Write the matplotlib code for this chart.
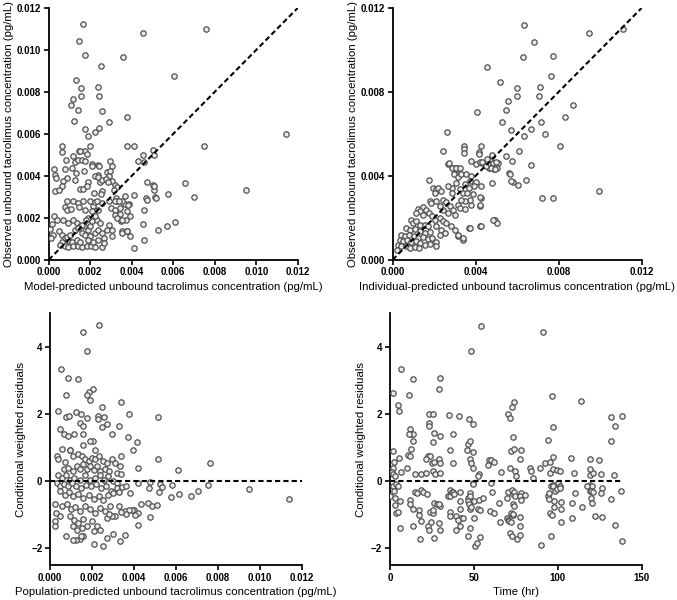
import numpy as np
import matplotlib
matplotlib.use("Agg")
import matplotlib.pyplot as plt

plt.rcParams['font.family'] = ['Liberation Sans', 'DejaVu Sans']

# concentrations read in units of 0.001 pg/mL
# panel A: model (population) predicted vs observed
pred_obs = [
    (1.64, 11.21), (1.45, 10.40), (4.53, 10.81), (7.58, 11.00), (1.77, 9.73), (3.60, 9.67),
    (2.52, 9.22), (6.02, 8.74), (1.32, 8.54), (1.53, 8.19), (2.36, 8.24), (1.53, 7.79),
    (2.44, 7.79), (1.19, 7.66), (1.08, 7.39), (1.43, 7.15), (2.57, 7.07), (3.78, 6.80),
    (1.24, 6.60), (2.92, 6.55), (1.77, 6.23), (2.44, 6.28), (2.25, 6.07), (1.88, 5.91),
    (11.41, 5.99), (0.64, 5.41), (2.01, 5.41), (3.78, 5.41), (4.10, 5.41), (5.01, 5.25),
    (7.47, 5.44), (5.06, 5.01), (0.63, 5.12), (1.77, 5.20), (1.48, 5.17), (4.53, 4.98),
    (4.29, 4.69), (4.58, 4.66), (6.54, 3.66), (4.74, 3.69), (5.04, 3.58), (5.06, 3.34),
    (9.48, 3.31), (5.73, 3.13), (6.99, 2.97), (4.69, 2.93), (5.14, 2.99), (4.11, 3.08),
    (3.68, 3.05), (4.61, 2.38), (6.06, 1.78), (5.69, 1.59), (5.25, 1.40), (4.56, 1.72),
    (4.61, 0.95), (4.13, 0.56), (3.89, 1.11), (3.78, 1.35), (3.53, 1.38), (3.73, 1.91),
    (3.89, 2.07), (3.50, 1.86), (3.66, 2.67), (3.86, 2.67), (3.24, 2.94), (3.29, 2.78),
    (1.83, 5.06), (1.16, 4.96), (1.51, 5.17), (0.82, 4.74), (0.76, 4.32), (0.27, 4.32),
    (0.31, 4.05), (0.34, 3.90), (0.31, 3.26), (1.27, 4.64), (1.40, 4.74), (1.59, 4.77),
    (1.75, 4.69), (2.07, 4.58), (2.38, 4.53), (2.10, 4.48), (2.43, 4.45), (2.96, 4.69),
    (3.04, 4.45), (1.11, 4.37), (1.72, 4.21), (1.33, 4.13), (0.88, 3.90), (0.71, 3.74),
    (0.63, 3.50), (0.47, 3.34), (1.27, 3.79), (1.51, 3.37), (1.67, 3.37), (1.88, 3.69),
    (1.86, 3.50), (2.47, 3.69), (2.39, 4.05), (2.23, 4.01), (2.36, 3.93), (2.56, 3.82),
    (2.80, 4.17), (2.96, 4.21), (2.92, 3.98), (3.04, 3.74), (3.20, 3.58), (3.28, 3.45),
    (3.12, 3.34), (2.76, 3.84), (2.84, 3.69), (2.56, 3.26), (2.52, 3.15), (3.52, 2.78),
    (2.18, 3.18), (0.90, 2.78), (1.19, 2.78), (1.43, 2.70), (1.67, 2.78), (1.99, 2.81),
    (2.12, 2.58), (2.23, 2.75), (2.34, 2.78), (2.56, 2.70), (2.88, 2.78), (3.20, 2.81),
    (3.36, 2.78), (0.27, 2.10), (0.76, 2.51), (0.87, 2.35), (1.08, 2.42), (1.46, 2.51),
    (1.75, 2.38), (2.07, 2.31), (2.39, 2.35), (3.00, 2.46), (3.20, 2.35), (3.44, 2.46),
    (3.44, 2.19), (3.17, 2.15), (3.28, 1.99), (3.52, 1.91), (3.84, 2.62), (3.76, 2.31),
    (0.14, 1.72), (0.39, 1.91), (0.71, 1.88), (0.92, 1.75), (1.19, 1.91), (1.35, 1.75),
    (1.51, 1.62), (0.06, 1.46), (0.22, 1.19), (0.11, 1.03), (0.47, 1.35), (0.63, 1.19),
    (0.79, 1.03), (0.95, 0.95), (1.11, 0.83), (0.66, 0.83), (0.55, 0.72), (0.76, 0.64),
    (0.95, 0.60), (1.19, 0.67), (1.40, 0.64), (1.59, 0.60), (1.83, 0.64), (2.04, 0.67),
    (2.23, 0.60), (2.56, 0.59), (1.88, 1.43), (1.99, 1.59), (1.72, 1.62), (2.07, 1.83),
    (2.31, 1.91), (2.47, 1.75), (2.23, 2.07), (1.91, 1.99), (1.59, 1.27), (1.75, 1.19),
    (1.99, 1.14), (2.23, 1.30), (2.39, 1.43), (2.56, 1.27), (2.80, 1.43), (2.88, 1.67),
    (3.04, 1.43), (3.04, 1.11), (2.64, 1.03), (2.39, 0.95), (2.15, 0.87), (1.88, 0.95),
    (1.35, 0.95), (1.51, 0.87), (2.64, 0.79), (3.52, 1.27), (3.76, 1.35), (0.87, 1.08),
    (1.03, 1.19), (1.27, 1.43), (1.43, 1.51), (1.59, 1.67), (1.78, 1.91), (5.09, 3.53),
    (5.16, 2.93), (4.72, 2.84),
]

# panel B: individual predicted vs observed
ipred_obs = [
    (6.33, 11.20), (9.48, 10.80), (11.08, 11.01), (6.83, 10.37), (6.30, 9.65), (7.71, 9.70),
    (4.56, 9.17), (5.17, 8.49), (7.63, 8.73), (5.98, 8.17), (7.10, 8.22), (5.98, 7.79),
    (7.07, 7.79), (5.57, 7.58), (8.67, 7.37), (5.45, 7.15), (4.05, 7.05), (8.32, 6.78),
    (5.25, 6.57), (5.70, 6.19), (6.67, 6.25), (7.13, 6.54), (7.34, 5.98), (6.33, 5.90),
    (2.60, 6.10), (8.06, 5.43), (3.44, 5.43), (3.44, 5.27), (3.44, 5.07), (4.26, 5.43),
    (6.10, 5.19), (2.44, 5.19), (4.18, 5.11), (4.77, 4.95), (5.45, 4.95), (5.74, 4.71),
    (5.09, 4.63), (4.85, 4.63), (4.53, 4.79), (4.29, 4.63), (4.66, 4.36), (4.90, 4.34),
    (5.04, 4.39), (6.65, 4.50), (5.62, 4.12), (5.78, 3.70), (6.02, 3.54), (6.41, 3.78),
    (4.80, 3.64), (9.96, 3.30), (7.21, 2.95), (7.71, 2.95), (4.26, 2.95), (4.21, 2.58),
    (3.76, 2.63), (4.93, 1.88), (5.01, 1.76), (4.21, 1.60), (4.27, 1.63), (3.69, 1.52),
    (3.16, 1.15), (3.37, 0.96), (1.75, 3.78), (2.67, 4.55), (2.92, 4.39), (3.12, 4.39),
    (3.00, 4.15), (3.79, 4.71), (4.03, 4.55), (4.23, 4.66), (4.16, 5.03), (4.32, 4.66),
    (4.51, 4.47), (4.80, 4.98), (4.84, 4.63), (4.99, 4.66), (4.76, 4.39), (4.92, 4.34),
    (2.71, 4.60), (2.88, 4.39), (3.07, 4.39), (3.26, 4.39), (2.94, 4.07), (3.15, 3.96),
    (3.31, 4.07), (3.55, 4.07), (3.79, 3.99), (3.71, 3.75), (4.00, 3.70), (4.27, 3.51),
    (3.90, 3.51), (4.22, 3.00), (4.22, 2.63), (3.68, 3.43), (3.47, 3.59), (3.07, 3.64),
    (2.88, 3.43), (2.67, 3.51), (2.88, 3.19), (3.23, 3.35), (3.39, 3.19), (3.58, 3.16),
    (3.87, 3.11), (3.71, 2.87), (3.47, 2.79), (3.31, 2.87), (3.15, 2.63), (3.23, 2.47),
    (3.47, 2.43), (1.94, 3.43), (2.10, 3.35), (2.02, 3.19), (2.18, 3.43), (2.35, 3.27),
    (1.78, 2.79), (1.86, 2.71), (2.10, 2.79), (2.42, 2.87), (2.59, 2.74), (2.75, 2.58),
    (2.26, 2.55), (2.43, 2.39), (2.67, 2.23), (2.91, 2.39), (2.99, 2.15), (1.22, 2.43),
    (1.46, 2.52), (1.62, 2.39), (1.30, 2.31), (1.14, 2.23), (1.46, 2.15), (1.75, 2.23),
    (1.91, 2.07), (2.02, 1.91), (2.27, 1.99), (2.43, 1.83), (2.59, 1.76), (2.10, 1.60),
    (2.35, 1.44), (2.51, 1.28), (2.27, 1.20), (2.07, 0.83), (2.07, 0.67), (2.83, 1.60),
    (2.99, 1.44), (3.15, 1.20), (3.39, 1.04), (0.90, 1.91), (0.98, 1.76), (1.14, 1.83),
    (1.30, 1.68), (1.54, 1.68), (1.70, 1.60), (0.66, 1.52), (0.82, 1.44), (1.06, 1.47),
    (1.30, 1.36), (1.54, 1.28), (1.78, 1.31), (0.42, 1.20), (0.58, 1.12), (0.79, 1.20),
    (1.01, 1.12), (1.22, 1.04), (1.46, 1.09), (1.70, 0.99), (1.91, 1.04), (0.34, 0.96),
    (0.50, 0.88), (0.69, 0.93), (0.90, 0.83), (1.11, 0.88), (1.33, 0.80), (1.54, 0.72),
    (1.78, 0.77), (0.26, 0.72), (0.42, 0.64), (0.63, 0.67), (0.82, 0.56), (1.06, 0.61),
    (1.27, 0.56), (0.21, 0.48), (4.84, 1.91), (3.71, 1.52), (5.64, 4.07), (5.72, 3.75),
]

# panel C: population predicted vs conditional weighted residuals
pred_cwres = [
    (2.35, 4.64), (1.59, 4.45), (1.78, 3.87), (0.51, 3.34), (0.83, 3.06), (1.35, 3.03),
    (2.03, 2.75), (1.84, 2.65), (1.78, 2.56), (1.88, 2.41), (0.76, 2.56), (3.37, 2.37),
    (0.40, 2.08), (1.24, 2.06), (1.46, 2.00), (0.76, 1.92), (0.92, 1.94), (1.75, 1.89),
    (2.27, 1.94), (2.30, 1.84), (2.46, 2.21), (2.58, 1.92), (2.70, 1.69), (2.46, 1.62),
    (3.26, 1.64), (3.78, 1.99), (5.12, 1.92), (0.48, 1.56), (0.67, 1.41), (0.87, 1.34),
    (1.14, 1.39), (1.43, 1.72), (1.59, 1.64), (2.94, 1.39), (3.69, 1.32), (4.13, 1.16),
    (3.94, 0.94), (1.59, 1.39), (1.56, 1.09), (2.03, 1.19), (1.91, 1.19), (2.15, 0.92),
    (0.95, 0.94), (0.32, 0.74), (0.40, 0.65), (0.56, 0.96), (3.37, 0.74), (4.17, 0.40),
    (5.12, 0.65), (7.60, 0.53), (6.09, 0.33), (4.77, -0.03), (4.72, -0.20), (5.17, -0.33),
    (5.25, -0.07), (5.33, -0.17), (5.80, -0.12), (6.12, -0.38), (5.75, -0.48), (6.71, -0.43),
    (7.03, -0.30), (7.50, -0.10), (9.46, -0.23), (11.37, -0.52), (4.66, -0.65), (4.85, -0.74),
    (5.09, -0.71), (4.34, -0.67), (4.01, -0.86), (3.90, -0.86), (4.21, -0.96), (4.05, -1.02),
    (3.58, -0.89), (3.74, -0.87), (3.62, -0.99), (4.77, -1.06), (4.21, -1.29), (3.37, -0.92),
    (3.58, -1.59), (3.34, -1.79), (2.99, -1.57), (2.70, -1.69), (2.54, -1.92), (2.11, -1.87),
    (1.59, -1.62), (1.43, -1.72), (1.48, -1.64), (1.24, -1.74), (1.08, -1.74), (0.76, -1.64),
    (0.24, -1.19), (0.24, -1.32), (0.29, -0.94), (0.48, -1.04), (0.24, -0.67), (0.72, 0.57),
    (0.95, 0.92), (1.11, 0.74), (1.35, 0.82), (1.51, 0.74), (1.59, 0.50), (1.67, 0.65),
    (1.83, 0.60), (1.99, 0.69), (2.15, 0.65), (2.31, 0.74), (2.54, 0.60), (2.73, 0.55),
    (2.94, 0.65), (3.10, 0.53), (3.34, 0.45), (0.67, 0.35), (0.87, 0.40), (1.08, 0.30),
    (1.27, 0.45), (1.43, 0.35), (1.75, 0.37), (1.91, 0.45), (2.07, 0.33), (2.23, 0.45),
    (2.38, 0.30), (2.62, 0.37), (2.83, 0.30), (3.18, 0.25), (3.37, 0.20), (0.40, 0.17),
    (0.56, 0.10), (0.76, 0.17), (0.95, 0.05), (1.14, 0.10), (1.43, 0.03), (1.67, 0.17),
    (1.91, 0.05), (2.15, 0.10), (2.38, 0.17), (2.58, 0.03), (2.78, 0.15), (3.02, 0.00),
    (3.18, -0.05), (0.32, -0.05), (0.48, -0.15), (0.64, -0.07), (0.83, -0.15), (1.03, -0.05),
    (1.24, -0.13), (1.46, -0.20), (1.72, -0.10), (1.94, -0.13), (2.19, -0.07), (2.42, -0.20),
    (2.67, -0.13), (2.89, -0.30), (3.18, -0.20), (3.42, -0.17), (3.62, -0.13), (3.82, -0.35),
    (0.45, -0.30), (0.72, -0.40), (0.92, -0.33), (1.11, -0.45), (1.35, -0.37), (1.59, -0.50),
    (1.83, -0.40), (2.07, -0.53), (2.31, -0.45), (2.54, -0.57), (2.78, -0.40), (3.02, -0.35),
    (3.26, -0.33), (0.56, -0.74), (0.79, -0.69), (0.99, -0.84), (1.19, -0.76), (1.43, -0.89),
    (1.67, -0.74), (1.88, -0.82), (2.15, -0.94), (2.38, -0.79), (2.62, -0.89), (2.86, -0.74),
    (3.10, -1.04), (3.26, -0.74), (0.95, -1.04), (1.14, -1.16), (1.35, -1.24), (1.56, -1.12),
    (1.78, -1.32), (1.99, -1.19), (2.23, -1.34), (2.38, -1.46), (2.10, -1.49), (1.51, -1.39),
    (1.27, -1.44), (1.11, -1.34), (2.94, -1.04), (2.70, -1.09), (2.83, -0.99), (4.17, -0.05),
]

# panel D: time (hr) vs conditional weighted residuals
time_cwres = [
    (54.0, 4.62), (91.4, 4.45), (48.1, 3.87), (6.4, 3.34), (13.5, 3.03), (29.8, 3.06),
    (29.4, 2.75), (1.6, 2.63), (11.3, 2.56), (96.4, 2.55), (113.6, 2.40), (73.9, 2.36),
    (72.5, 2.21), (5.0, 2.28), (5.6, 2.08), (23.4, 1.99), (25.4, 2.00), (35.4, 1.96),
    (41.1, 1.94), (47.1, 1.86), (49.3, 1.69), (70.1, 2.00), (71.5, 1.88), (131.7, 1.92),
    (138.1, 1.94), (134.1, 1.64), (97.4, 1.61), (11.9, 1.54), (12.3, 1.41), (13.5, 1.39),
    (11.3, 1.39), (29.8, 1.34), (37.4, 1.39), (73.5, 1.32), (23.4, 1.74), (23.4, 1.64),
    (26.2, 1.42), (94.4, 1.22), (131.5, 1.19), (13.9, 1.19), (25.8, 1.16), (12.3, 0.97),
    (2.0, 0.89), (35.8, 0.92), (46.7, 1.12), (47.7, 1.19), (45.7, 0.94), (49.3, 0.86),
    (71.9, 0.89), (73.9, 0.96), (78.1, 0.94), (10.9, 0.77), (11.9, 0.76), (5.6, 0.69),
    (97.4, 0.72), (107.7, 0.70), (119.2, 0.67), (124.8, 0.63), (77.5, 0.65), (92.4, 0.53),
    (95.4, 0.57), (59.2, 0.63), (60.2, 0.63), (62.0, 0.57), (58.2, 0.47), (47.7, 0.67),
    (48.1, 0.55), (22.8, 0.76), (23.8, 0.74), (21.5, 0.67), (24.8, 0.55), (26.2, 0.57),
    (29.4, 0.65), (29.8, 0.55), (37.7, 0.55), (2.4, 0.57), (2.0, 0.40), (1.0, 0.27),
    (9.9, 0.40), (6.4, 0.27), (2.0, 0.20), (3.0, 0.15), (14.9, 0.20), (18.5, 0.20),
    (21.5, 0.25), (25.8, 0.30), (26.8, 0.20), (29.8, 0.25), (49.3, 0.40), (53.3, 0.20),
    (52.7, 0.15), (66.2, 0.27), (71.5, 0.40), (74.5, 0.30), (75.1, 0.15), (83.4, 0.40),
    (83.8, 0.30), (85.4, 0.10), (89.4, 0.40), (95.4, 0.25), (97.4, 0.35), (99.4, 0.33),
    (101.3, 0.30), (109.7, 0.23), (118.9, 0.17), (121.2, 0.25), (125.6, 0.20), (133.2, 0.17),
    (118.9, 0.37), (0.0, -0.45), (1.6, -0.15), (2.6, -0.30), (3.0, -0.50), (3.6, -0.07),
    (5.0, -0.15), (3.0, -0.72), (3.6, -0.94), (5.0, -0.92), (6.0, -0.60), (6.0, -1.39),
    (11.9, -0.55), (11.9, -0.67), (13.5, -0.82), (13.9, -1.34), (14.9, -0.33), (16.3, -0.35),
    (18.3, -0.25), (19.9, -0.33), (17.5, -0.86), (17.5, -1.02), (18.3, -1.19), (17.9, -1.72),
    (22.3, -0.37), (22.8, -1.34), (23.4, -1.44), (23.8, -0.92), (24.2, -1.22), (25.8, -0.94),
    (25.4, -0.86), (26.4, -0.65), (27.8, -0.67), (26.4, -1.69), (29.8, -0.74), (29.4, -0.67),
    (29.4, -1.24), (29.8, -1.44), (34.8, -0.45), (35.8, -0.43), (35.8, -0.25), (37.0, -0.33),
    (37.7, -0.33), (38.3, -0.37), (35.8, -0.92), (35.8, -1.04), (39.5, -1.04), (39.5, -1.44),
    (41.7, -0.33), (41.7, -0.60), (41.7, -0.84), (42.1, -1.09), (40.7, -1.14), (43.3, -1.09),
    (41.7, -1.34), (46.7, -0.50), (46.7, -0.60), (47.7, -0.35), (47.7, -0.45), (47.3, -0.67),
    (47.7, -0.82), (48.3, -0.77), (46.7, -1.64), (47.7, -1.39), (49.3, -0.05), (49.7, -0.08),
    (50.1, -0.60), (50.1, -1.09), (50.7, -1.94), (52.1, -1.84), (53.6, -1.66), (52.7, -0.84),
    (53.6, -0.86), (53.3, -0.55), (55.6, -0.50), (59.6, -0.89), (60.0, -0.05), (60.6, -0.33),
    (62.0, -0.94), (65.2, -0.65), (65.6, -1.22), (69.6, -0.50), (70.1, -0.33), (69.6, -1.09),
    (70.5, -1.14), (71.1, -1.19), (71.9, -1.22), (71.5, -1.54), (72.5, -1.64), (72.1, -0.94),
    (73.1, -1.02), (73.5, -0.99), (73.5, -0.69), (73.9, -0.74), (72.5, -0.25), (73.1, -0.38),
    (74.1, -0.33), (74.5, -0.45), (75.5, -1.72), (77.5, -1.59), (77.5, -1.34), (77.5, -1.06),
    (77.9, -0.35), (77.5, -0.45), (77.9, -0.55), (80.5, -0.40), (90.0, -1.89), (94.4, -0.45),
    (94.8, -0.35), (95.0, -0.53), (95.4, -0.96), (96.4, -1.02), (95.8, -1.62), (96.0, -0.15),
    (97.0, -0.10), (97.4, -0.15), (97.8, -0.76), (98.0, -0.60), (98.4, -0.30), (99.4, -0.23),
    (99.8, -0.05), (101.3, -0.13), (101.3, -0.20), (101.7, -0.63), (101.7, -0.82), (101.7, -1.22),
    (108.3, -0.65), (108.3, -1.09), (110.3, -0.35), (114.3, -0.76), (119.2, -0.10), (120.2, -0.15),
    (117.6, -0.15), (118.9, -0.30), (120.0, -0.30), (121.2, -0.33), (119.6, -0.50), (120.2, -0.65),
    (122.2, -1.04), (126.2, -1.06), (126.2, -0.20), (125.8, -0.35), (131.5, -0.53), (134.1, -1.31),
    (137.5, -0.28), (138.1, -1.79),
]

conc_ticks_a = [0.000, 0.002, 0.004, 0.006, 0.008, 0.010, 0.012]
conc_ticks_b = [0.000, 0.004, 0.008, 0.012]
cwres_ticks = [-2, 0, 2, 4]
time_ticks = [0, 50, 100, 150]

xlabels = [
    "Model-predicted unbound tacrolimus concentration (pg/mL)",
    "Individual-predicted unbound tacrolimus concentration (pg/mL)",
    "Population-predicted unbound tacrolimus concentration (pg/mL)",
    "Time (hr)",
]
ylab_obs = "Observed unbound tacrolimus concentration (pg/mL)"
ylab_res = "Conditional weighted residuals"


def split(pts, scale=1.0):
    a = np.array(pts)
    return a[:, 0] * scale, a[:, 1]


fig = plt.figure(figsize=(6.77, 6.0), dpi=100)
ax1 = fig.add_axes([0.072, 0.567, 0.368, 0.420])
ax2 = fig.add_axes([0.580, 0.567, 0.368, 0.420])
ax3 = fig.add_axes([0.074, 0.058, 0.372, 0.420])
ax4 = fig.add_axes([0.576, 0.058, 0.372, 0.420])

mk = dict(s=15, facecolors='#ebebeb', edgecolors='#505050', linewidths=0.9, zorder=3)
dash = dict(color='black', linestyle=(0, (2.5, 1.5)), linewidth=1.5, zorder=4)

x, y = split(pred_obs)
ax1.scatter(x * 1e-3, y * 1e-3, **mk)
x, y = split(ipred_obs)
ax2.scatter(x * 1e-3, y * 1e-3, **mk)
for ax in (ax1, ax2):
    ax.plot([0, 0.012], [0, 0.012], **dash)
    ax.set_xlim(0, 0.012)
    ax.set_ylim(0, 0.012)
ax1.set_xticks(conc_ticks_a)
ax1.set_yticks(conc_ticks_a)
ax2.set_xticks(conc_ticks_b)
ax2.set_yticks(conc_ticks_b)

x, y = split(pred_cwres, 1e-3)
ax3.scatter(x, y, **mk)
ax3.plot([0, 0.012], [0, 0], **dash)
ax3.set_xlim(0, 0.012)
ax3.set_xticks(conc_ticks_a)

x, y = split(time_cwres)
ax4.scatter(x, y, **mk)
ax4.plot([0, 138], [0, 0], **dash)
ax4.set_xlim(0, 150)
ax4.set_xticks(time_ticks)

for ax in (ax3, ax4):
    ax.set_ylim(-2.5, 5)
    ax.set_yticks(cwres_ticks)

fmt = matplotlib.ticker.FormatStrFormatter('%.3f')
for ax in (ax1, ax2):
    ax.yaxis.set_major_formatter(fmt)
    ax.xaxis.set_major_formatter(fmt)
ax3.xaxis.set_major_formatter(fmt)

for ax, xl in zip((ax1, ax2, ax3, ax4), xlabels):
    for s in ('top', 'right'):
        ax.spines[s].set_visible(False)
    for s in ('left', 'bottom'):
        ax.spines[s].set_linewidth(1.3)
    ax.tick_params(direction='out', length=3.5, width=1.2, labelsize=7, pad=2)
    ax.set_xlabel(xl, fontsize=8.2, labelpad=3)
    for lab in ax.get_xticklabels() + ax.get_yticklabels():
        lab.set_fontweight('bold')

for ax in (ax1, ax2):
    ax.set_ylabel(ylab_obs, fontsize=8.2, labelpad=2)
for ax in (ax3, ax4):
    ax.set_ylabel(ylab_res, fontsize=8.2, labelpad=3.5)

fig.savefig("out.png", dpi=100)
